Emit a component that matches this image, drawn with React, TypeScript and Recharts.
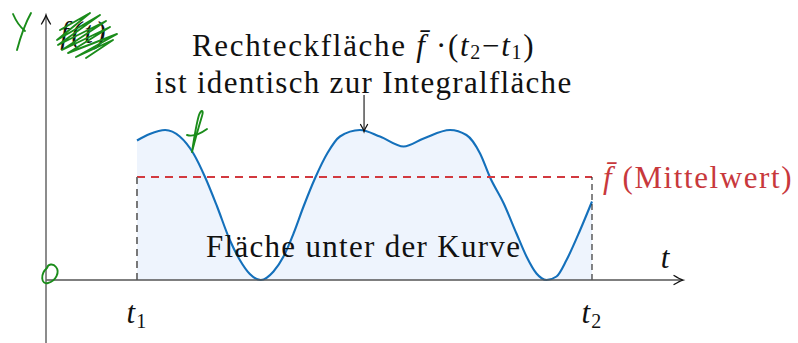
import { ComposedChart, Area, XAxis, YAxis, ReferenceLine, ReferenceDot } from 'recharts';

// sampled curve f(t) between t1 = 1 and t2 = 6
const tValues = [1.0, 1.14, 1.31, 1.47, 1.62, 1.75, 1.88, 2.02, 2.13, 2.24, 2.36, 2.5, 2.61, 2.72, 2.83, 2.96, 3.09, 3.23, 3.45, 3.67, 3.93, 4.15, 4.44, 4.62, 4.77, 4.88, 5.03, 5.17, 5.28, 5.39, 5.5, 5.61, 5.72, 5.87, 6.0];
const fValues = [2.79, 2.92, 3.0, 2.87, 2.53, 2.05, 1.47, 0.8, 0.4, 0.12, 0.0, 0.17, 0.47, 0.93, 1.47, 2.05, 2.53, 2.87, 3.0, 2.87, 2.67, 2.83, 3.0, 2.9, 2.53, 2.05, 1.53, 0.93, 0.47, 0.13, 0.0, 0.07, 0.4, 1.0, 1.57];
const t1 = 1;
const t2 = 6;
const fMean = 2.06;
const tDomain = [0, 7];
const fDomain = [-1.26, 5.3];

const data = tValues.map((t, i) => ({ t, f: fValues[i] }));

const serif = '"Liberation Serif", "DejaVu Serif", serif';
const BLUE = '#1470bb';
const RED = '#d2393f';
const GREEN = '#1a8c1a';

// line with a tikz-like "->" tip at its second point
const arrowLine = (color: string, width: number, len = 9, half = 4.5) => (p: any) => {
  const { x1, y1, x2, y2 } = p;
  const a = Math.atan2(y2 - y1, x2 - x1);
  const c = Math.cos(a), s = Math.sin(a);
  const bx = x2 - len * c, by = y2 - len * s;
  const mx = x2 - len * 0.35 * c, my = y2 - len * 0.35 * s;
  const nx = -s * half, ny = c * half;
  return (
    <g>
      <line x1={x1} y1={y1} x2={x2 - c} y2={y2 - s} stroke={color} strokeWidth={width} />
      <path
        d={`M${bx + nx},${by + ny} Q${mx + nx * 0.2},${my + ny * 0.2} ${x2},${y2} Q${mx - nx * 0.2},${my - ny * 0.2} ${bx - nx},${by - ny}`}
        fill="none" stroke="#111" strokeWidth={1.3} strokeLinecap="round"
      />
    </g>
  );
};

const textAt = (key: string, x: number, y: number, content: any, anchor: 'start' | 'middle' | 'end' = 'middle', style: any = {}) => (
  <ReferenceDot
    key={key}
    x={x}
    y={y}
    r={0}
    ifOverflow="visible"
    shape={(p: any) => (
      <text x={p.cx} y={p.cy} textAnchor={anchor} fontFamily={serif} fontSize={31} letterSpacing={1.3} fill="#111" {...style}>
        {content}
      </text>
    )}
  />
);

const sub = (n: string, drop = 5) => (
  <tspan dy={drop} fontSize={20} fontStyle="normal">{n}</tspan>
);

export default function App() {
  return (
    <div style={{ position: 'absolute', left: 0, top: 0, width: 798, height: 343, background: '#fff' }}>
      <ComposedChart width={798} height={343} data={data} margin={{ top: 15, right: 115, bottom: 0, left: 46 }}>
        <XAxis dataKey="t" type="number" domain={tDomain} hide />
        <YAxis type="number" domain={fDomain} hide allowDataOverflow />

        <Area dataKey="f" type="monotone" baseValue={0} stroke={BLUE} strokeWidth={2.1} fill="#eef4fd" fillOpacity={1} isAnimationActive={false} />

        {/* mean value and the rectangle edges */}
        <ReferenceLine segment={[{ x: t1, y: fMean }, { x: t2, y: fMean }]} stroke={RED} strokeWidth={2} strokeDasharray="8 6" ifOverflow="visible" />
        <ReferenceLine segment={[{ x: t1, y: 0 }, { x: t1, y: fMean }]} stroke="#6b6b6b" strokeWidth={1.8} strokeDasharray="7 5" ifOverflow="visible" />
        <ReferenceLine segment={[{ x: t2, y: 0 }, { x: t2, y: fMean }]} stroke="#222" strokeWidth={1.1} strokeDasharray="6 4" ifOverflow="visible" />

        {/* axes */}
        <ReferenceLine segment={[{ x: 0, y: 0 }, { x: 7, y: 0 }]} ifOverflow="visible" shape={arrowLine('#555', 1.5)} />
        <ReferenceLine segment={[{ x: 0, y: -1.26 }, { x: 0, y: 5.3 }]} ifOverflow="visible" shape={arrowLine('#666', 1.5)} />

        {/* pointer to the integral area */}
        <ReferenceLine segment={[{ x: 3.495, y: 3.7 }, { x: 3.495, y: 2.97 }]} ifOverflow="visible" shape={arrowLine('#111', 1.1, 7, 3.5)} />

        {textAt('t1', 1, -0.86, <><tspan fontStyle="italic">t</tspan>{sub('1')}</>)}
        {textAt('t2', 6, -0.86, <><tspan fontStyle="italic">t</tspan>{sub('2')}</>)}
        {textAt('t', 6.81, 0.24, 't', 'middle', { fontStyle: 'italic' })}
        {textAt('ft', 0.42, 4.74, 'f(t)', 'middle', { fontStyle: 'italic', letterSpacing: 2.5 })}
        {textAt('rect', 3.49, 4.48, <>Rechteckfläche <tspan fontStyle="italic">f̄</tspan> ·(<tspan fontStyle="italic">t</tspan>{sub('2', 3)}<tspan dy={-3}>−</tspan><tspan fontStyle="italic">t</tspan>{sub('1', 3)}<tspan dy={-3}>)</tspan></>, 'middle', { letterSpacing: 1.7 })}
        {textAt('ident', 3.49, 3.75, 'ist identisch zur Integralfläche')}
        {textAt('under', 3.49, 0.47, 'Fläche unter der Kurve')}
        {textAt('mean', 6.12, 1.84, <><tspan fontStyle="italic">f̄</tspan> (Mittelwert)</>, 'start', { fill: '#c8383c', fontSize: 31, letterSpacing: 1.6 })}
      </ComposedChart>

      {/* green pen marks */}
      <svg width={798} height={343} style={{ position: 'absolute', left: 0, top: 0, pointerEvents: 'none' }}>
        <g fill="none" stroke={GREEN} strokeWidth={1.9} strokeLinecap="round" strokeLinejoin="round">
          <path d="M13,14 C16,21 20,27 25,31" />
          <path d="M31,13 C26,22 21,35 17,50" />
          <path d="M60,30 L90,13 L57,40 L100,15 L58,45 L106,21 L62,50 L110,27 L68,53 L117,34 L76,57 L113,40 L86,58" />
          <path d="M192,152 C195,140 199,126 202,116 C204,110 201,109 199,115 C196,125 194,139 192,152" />
          <path d="M187,135 C193,137 200,134 207,129" />
          <path d="M47,268 C40,274 41,285 48,283 C56,281 60,272 56,267 C53,263 48,264 47,268" />
        </g>
      </svg>
    </div>
  );
}
